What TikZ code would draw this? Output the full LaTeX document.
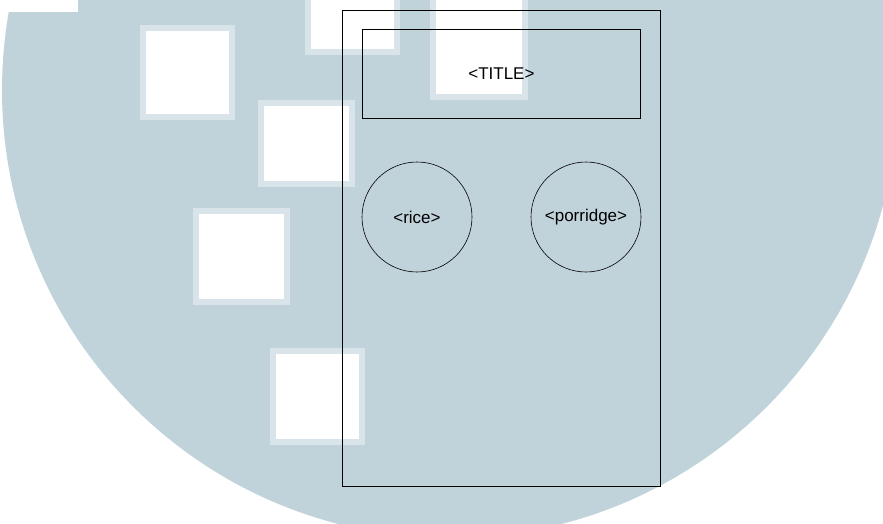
\documentclass[tikz,border=0pt]{standalone}
\usepackage{fontspec}
\setmainfont{Liberation Sans}
\usepackage{xcolor}
\usepackage{tikz}
\usetikzlibrary{positioning}
\definecolor{wmblue}{RGB}{193,211,218}
\definecolor{wmedge}{RGB}{216,228,233}

\begin{document}
\begin{tikzpicture}[x=1pt, y=-1pt,
    screen/.style={rectangle, draw, line width=0.8pt, minimum width=318pt, minimum height=476pt, inner sep=0pt},
    titlebox/.style={rectangle, draw, line width=0.8pt, minimum width=278pt, minimum height=89pt, inner sep=0pt, font=\fontsize{17}{20}\selectfont},
    dish/.style={circle, draw, line width=0.6pt, minimum size=110pt, inner sep=0pt, font=\fontsize{17}{20}\selectfont},
    tile/.style={fill=white, draw=wmedge, line width=6pt}]

% watermark behind the wireframe
\useasboundingbox (0,0) rectangle (883,524);
\begin{scope}
\clip (0,0) rectangle (883,524);
\fill[wmblue] (450,90) circle (448);
\fill[white] (0,0) rectangle (78,12);
\draw[tile] (143,28) rectangle (232,117);
\draw[tile] (261,103) rectangle (352,184);
\draw[tile] (196,211) rectangle (287,302);
\draw[tile] (273,351) rectangle (362,442);
\draw[tile] (308,-10) rectangle (397,52);
\draw[tile] (433,-10) rectangle (525,97);
\end{scope}

\node[screen, anchor=north west] (phone) at (342,10) {};
\node[titlebox, below=19pt of phone.north] (title) {<TITLE>};
\node[dish] (rice) at (417,217) {<rice>};
\node[dish] (porridge) at (586,217) {<porridge>};
\end{tikzpicture}
\end{document}
